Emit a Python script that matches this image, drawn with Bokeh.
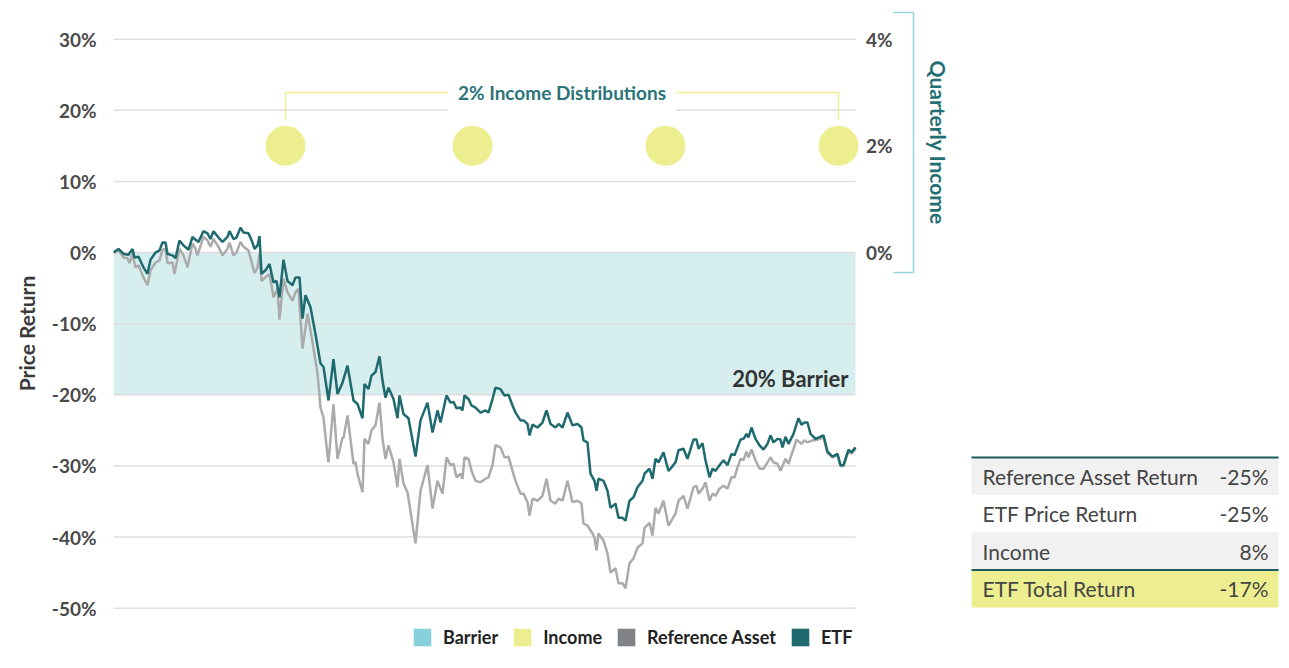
import math
from bokeh.plotting import figure
from bokeh.models import Range1d, FixedTicker, Legend, LegendItem, Label
from bokeh.core.properties import value
from bokeh.embed import file_html
from bokeh.resources import INLINE

# ---------------- data ----------------
etf_day = [0, 5, 10, 15, 19, 21, 25, 30, 34, 37, 42, 46, 49, 52, 54, 59, 62, 66, 70, 75,
           79, 82, 85, 90, 94, 97, 100, 105, 109, 114, 116, 120, 123, 127, 130, 135, 139, 141, 144, 146,
           148, 152, 156, 160, 163, 166, 170, 174, 179, 182, 186, 189, 192, 197, 202, 207, 210, 215, 220, 224,
           229, 234, 240, 244, 249, 251, 255, 258, 262, 266, 269, 272, 275, 280, 284, 286, 290, 295, 302, 307,
           314, 319, 324, 327, 333, 337, 340, 343, 347, 349, 351, 355, 358, 362, 367, 372, 375, 379, 382, 387,
           391, 395, 399, 402, 407, 410, 414, 416, 419, 424, 429, 433, 437, 442, 445, 449, 454, 459, 464, 468,
           470, 474, 477, 481, 483, 485, 490, 494, 497, 502, 505, 509, 512, 516, 520, 524, 529, 531, 536, 539,
           542, 545, 550, 555, 557, 562, 565, 570, 574, 580, 583, 585, 589, 592, 596, 599, 602, 606, 610, 614,
           618, 621, 624, 627, 630, 633, 635, 638, 642, 646, 650, 654, 657, 660, 664, 667, 669, 672, 675, 680,
           685, 688, 691, 694, 697, 702, 710, 714, 719, 724, 727, 730, 735, 738, 742]
etf_ret = [0.0, 0.5, -0.2, -0.3, 0.5, -0.7, -0.6, -2.1, -3.0, -1.0, 0.0, 0.3, 1.4, 1.4, -0.2, -0.4, -0.8, 1.7, 1.0, 0.4,
           2.2, 1.8, 1.5, 3.0, 2.7, 1.9, 3.0, 2.1, 1.5, 2.2, 3.0, 1.9, 2.1, 3.5, 2.8, 2.7, 1.4, 0.5, 1.0, 2.3,
           -3.0, -2.5, -1.6, -4.2, -4.0, -6.3, -1.0, -4.0, -4.6, -3.5, -3.5, -9.3, -6.0, -7.7, -11.5, -15.6, -16.1, -20.8, -15.0, -19.9,
           -18.3, -15.9, -20.8, -21.3, -23.3, -18.5, -19.2, -17.3, -16.8, -14.6, -18.0, -20.4, -19.0, -20.6, -23.3, -20.1, -22.7, -23.3, -28.7, -23.6,
           -21.1, -25.3, -22.2, -23.9, -20.1, -21.1, -21.0, -21.9, -21.8, -22.2, -20.1, -20.6, -21.5, -21.8, -22.5, -22.2, -22.5, -20.6, -19.0, -19.2,
           -20.1, -20.0, -21.5, -22.5, -23.6, -23.6, -24.1, -25.7, -24.2, -24.6, -23.9, -22.2, -24.1, -24.6, -24.1, -24.6, -22.5, -24.3, -24.1, -24.6,
           -26.4, -26.7, -31.1, -32.1, -33.5, -31.8, -32.1, -33.5, -35.9, -35.3, -37.3, -37.3, -37.7, -34.9, -34.4, -33.0, -32.1, -31.1, -30.4, -31.8,
           -29.0, -29.5, -28.1, -30.7, -30.4, -29.5, -27.8, -27.6, -29.0, -26.3, -26.3, -27.6, -26.8, -29.2, -31.6, -30.4, -30.7, -29.9, -29.2, -29.9,
           -28.3, -28.5, -27.4, -26.3, -26.2, -25.5, -26.0, -24.6, -26.2, -27.1, -27.7, -26.9, -25.7, -26.7, -26.2, -26.3, -27.4, -25.9, -26.9, -25.5,
           -23.3, -24.2, -23.9, -23.9, -25.5, -26.2, -25.7, -28.0, -28.7, -28.3, -29.9, -29.9, -27.7, -28.1, -27.4]

ref_day = [0, 5, 10, 14, 16, 19, 22, 25, 30, 34, 37, 42, 46, 49, 52, 54, 59, 61, 66, 70,
           74, 79, 82, 84, 90, 94, 97, 100, 105, 109, 114, 116, 120, 123, 127, 130, 135, 139, 141, 144,
           146, 148, 152, 156, 160, 164, 166, 170, 174, 179, 182, 185, 189, 194, 197, 199, 204, 207, 210, 214,
           215, 220, 224, 229, 230, 234, 240, 242, 244, 249, 251, 255, 258, 262, 266, 269, 272, 275, 280, 284,
           286, 290, 294, 302, 307, 314, 319, 324, 329, 333, 337, 340, 343, 347, 349, 351, 355, 358, 362, 367,
           372, 375, 379, 382, 387, 391, 395, 399, 402, 407, 410, 414, 416, 419, 424, 429, 433, 437, 442, 445,
           449, 454, 459, 464, 468, 470, 474, 479, 481, 483, 485, 490, 494, 497, 502, 505, 509, 512, 516, 520,
           524, 529, 531, 536, 539, 542, 545, 550, 555, 562, 565, 570, 574, 580, 583, 585, 589, 592, 596, 599,
           602, 606, 610, 614, 618, 621, 624, 627, 630, 633, 635, 638, 642, 646, 650, 654, 657, 660, 664, 667,
           672, 675, 680, 683, 688, 691, 694, 699, 702, 710, 714, 719, 724, 727, 730, 735, 738, 742]
ref_ret = [0.0, 0.3, -0.7, -0.8, -1.5, -0.2, -2.1, -1.8, -3.5, -4.6, -2.5, -1.4, -1.1, 0.4, 0.5, -1.5, -1.4, -3.0, 0.5, -0.4,
           -2.1, 1.3, 0.5, -0.4, 2.2, 1.7, 0.8, 1.9, 0.8, -0.4, 0.5, 1.4, -0.4, 0.0, 1.5, 0.8, 0.3, -1.8, -2.9, -2.1,
           -0.2, -4.0, -3.5, -3.0, -6.3, -5.1, -9.4, -3.7, -5.6, -6.8, -5.6, -5.1, -13.5, -8.6, -11.0, -12.6, -17.0, -21.8, -23.2, -28.5,
           -29.5, -21.3, -29.0, -26.0, -26.1, -22.9, -29.7, -29.5, -31.1, -33.7, -26.2, -26.9, -25.0, -24.3, -21.1, -26.2, -29.0, -27.1, -29.5, -33.0,
           -29.0, -32.5, -33.7, -40.9, -33.5, -29.9, -36.0, -32.1, -33.9, -28.8, -29.9, -29.7, -31.6, -31.1, -31.8, -28.8, -29.0, -30.7, -32.1, -32.3,
           -31.8, -31.6, -29.9, -27.1, -27.4, -28.8, -28.7, -30.7, -32.1, -33.9, -33.9, -35.1, -37.0, -34.6, -34.9, -34.2, -31.8, -34.9, -35.3, -34.6,
           -34.9, -32.1, -35.1, -34.9, -35.3, -38.1, -38.4, -39.5, -40.1, -41.9, -39.5, -40.5, -42.3, -45.0, -44.4, -46.5, -46.5, -47.2, -43.7, -43.0,
           -41.5, -40.9, -38.7, -38.0, -39.8, -35.9, -36.7, -34.9, -38.4, -36.7, -34.9, -34.2, -36.0, -33.0, -32.8, -33.9, -33.2, -32.3, -34.9, -33.9,
           -34.2, -33.2, -32.8, -33.2, -31.6, -31.6, -30.2, -29.0, -29.2, -28.0, -28.8, -27.7, -29.2, -30.4, -30.4, -29.5, -28.8, -29.5, -29.7, -30.7,
           -29.0, -29.7, -27.6, -26.3, -26.9, -26.4, -26.7, -26.4, -26.4, -26.0, -28.2, -28.8, -28.5, -30.0, -30.0, -27.9, -28.3, -27.6]

income_day = [172, 359, 552, 725]
income_val = [2, 2, 2, 2]

barrier_level = -20
price_ticks = [30, 20, 10, 0, -10, -20, -30, -40, -50]
price_tick_labels = ["30%", "20%", "10%", "0%", "-10%", "-20%", "-30%", "-40%", "-50%"]
income_ticks = [4, 2, 0]
income_tick_labels = ["4%", "2%", "0%"]

table_labels = ["Reference Asset Return", "ETF Price Return", "Income", "ETF Total Return"]
table_values = ["-25%", "-25%", "8%", "-17%"]

# ---------------- colours ----------------
TEAL = "#1E6A6E"
GREY_LINE = "#ABABAB"
YELLOW = "#EDEE8F"
BAND = "#D7EEEF"
BARRIER_SW = "#86D1DB"
REF_SW = "#808285"
GRID = "#DEDEDE"
FONT = "Lato"

Y0, Y1 = -57.08, 34.31
RATIO = 7.5

p = figure(width=1281, height=658, x_range=Range1d(0, 1168), y_range=Range1d(Y0, Y1),
           output_backend="svg", toolbar_location=None, x_axis_location=None,
           min_border_left=113, min_border_right=0, min_border_top=8, min_border_bottom=0)
p.extra_y_ranges = {"income": Range1d(Y0 / RATIO, Y1 / RATIO)}
p.outline_line_color = None
p.grid.visible = False
p.background_fill_color = "white"
p.border_fill_color = "white"

ax = p.yaxis[0]
ax.ticker = FixedTicker(ticks=price_ticks)
ax.major_label_overrides = {t: l for t, l in zip(price_ticks, price_tick_labels)}
ax.axis_line_color = None
ax.major_tick_line_color = None
ax.minor_tick_line_color = None
ax.major_label_standoff = 11
ax.major_label_text_font = FONT
ax.major_label_text_font_size = "19px"
ax.major_label_text_font_style = "bold"
ax.major_label_text_color = "#4a4a4a"
ax.axis_label = "Price Return"
ax.axis_label_text_font = FONT
ax.axis_label_text_font_size = "21px"
ax.axis_label_text_font_style = "bold"
ax.axis_label_text_color = "#3a3a3a"
ax.axis_label_standoff = 10

d0, d1 = etf_day[0], etf_day[-1]

# barrier band
p.quad(left=d0, right=d1, bottom=barrier_level, top=0, fill_color=BAND, line_color=None)

# gridlines
p.segment(x0=[d0] * len(price_ticks), x1=[d1] * len(price_ticks), y0=price_ticks, y1=price_ticks,
          line_color=GRID, line_width=1.5)

p.text(x=[d1 - 7], y=[barrier_level + 2.3], text=["20% Barrier"], text_align="right", text_baseline="middle",
       text_font=value(FONT), text_font_style="bold", text_font_size="22px", text_color="#333333")

# lines
p.line(ref_day, ref_ret, line_color=GREY_LINE, line_width=2.5)
p.line(etf_day, etf_ret, line_color=TEAL, line_width=2.5)

# income distributions
p.scatter(x=income_day, y=income_val, size=40, fill_color=YELLOW, line_color=None, y_range_name="income")
br_top = 3.0
br_bot = 2.5
p.segment(x0=[income_day[0], income_day[0], income_day[-1]], x1=[income_day[-1], income_day[0], income_day[-1]],
          y0=[br_top, br_top, br_top], y1=[br_top, br_bot, br_bot], line_color=YELLOW, line_width=1.5,
          y_range_name="income")
p.add_layout(Label(x=(income_day[0] + income_day[-1]) / 2, y=br_top, y_range_name="income",
                   text="2% Income Distributions", text_align="center", text_baseline="middle",
                   text_font=FONT, text_font_style="bold", text_font_size="19px", text_color="#2B7479",
                   background_fill_color="white", padding=10))

# right "Quarterly Income" bracket
bx = d1 + 58
p.segment(x0=[bx, bx - 20, bx - 20], x1=[bx, bx, bx], y0=[4.5, 4.5, -0.375], y1=[-0.375, 4.5, -0.375],
          line_color="#96D5DE", line_width=1.5, y_range_name="income")
p.text(x=[bx - 21] * len(income_ticks), y=income_ticks, text=income_tick_labels, text_align="right",
       text_baseline="middle", text_font=value(FONT), text_font_style="bold", text_font_size="19px",
       text_color="#4a4a4a", y_range_name="income")
p.text(x=[bx + 25], y=[2.06], text=["Quarterly Income"], angle=-math.pi / 2, text_align="center",
       text_baseline="middle", text_font=value(FONT), text_font_style="bold", text_font_size="21px",
       text_color="#1F6F73", y_range_name="income")

# summary table
tl, tr = d1 + 116, d1 + 423
row_h = 5.27
t_top = -28.82
n = len(table_labels)
tops = [t_top - i * row_h for i in range(n)]
bots = [t - row_h for t in tops]
fills = ["#F1F1F1", "#FFFFFF", "#F1F1F1", YELLOW]
p.quad(left=[tl] * n, right=[tr] * n, top=tops, bottom=bots, fill_color=fills, line_color=None)
p.segment(x0=[tl, tl], x1=[tr, tr], y0=[tops[0], tops[-1]], y1=[tops[0], tops[-1]], line_color="#1C5C60",
          line_width=2)
mids = [(a + b) / 2 for a, b in zip(tops, bots)]
p.text(x=[tl + 11] * n, y=mids, text=table_labels, text_align="left", text_baseline="middle",
       text_font=value(FONT), text_font_size="21px", text_color="#444444")
p.text(x=[tr - 10] * n, y=mids, text=table_values, text_align="right", text_baseline="middle",
       text_font=value(FONT), text_font_size="21px", text_color="#444444")

# legend
nan = float("nan")
r_b = p.quad(left=[nan], right=[nan], top=[nan], bottom=[nan], fill_color=BARRIER_SW, line_color=None)
r_i = p.quad(left=[nan], right=[nan], top=[nan], bottom=[nan], fill_color=YELLOW, line_color=None)
r_r = p.quad(left=[nan], right=[nan], top=[nan], bottom=[nan], fill_color=REF_SW, line_color=None)
r_e = p.quad(left=[nan], right=[nan], top=[nan], bottom=[nan], fill_color=TEAL, line_color=None)
legend = Legend(items=[LegendItem(label="Barrier", renderers=[r_b]),
                       LegendItem(label="Income", renderers=[r_i]),
                       LegendItem(label="Reference Asset", renderers=[r_r]),
                       LegendItem(label="ETF", renderers=[r_e])],
                location=(298, 10), orientation="horizontal", glyph_width=22, glyph_height=22,
                label_standoff=10, spacing=13, padding=0, margin=0, border_line_color=None,
                background_fill_alpha=0, label_text_font=FONT, label_text_font_style="bold",
                label_text_font_size="18px", label_text_color="#222222", label_height=22)
p.add_layout(legend, "center")

open("out.html", "w").write(file_html(p, INLINE))
